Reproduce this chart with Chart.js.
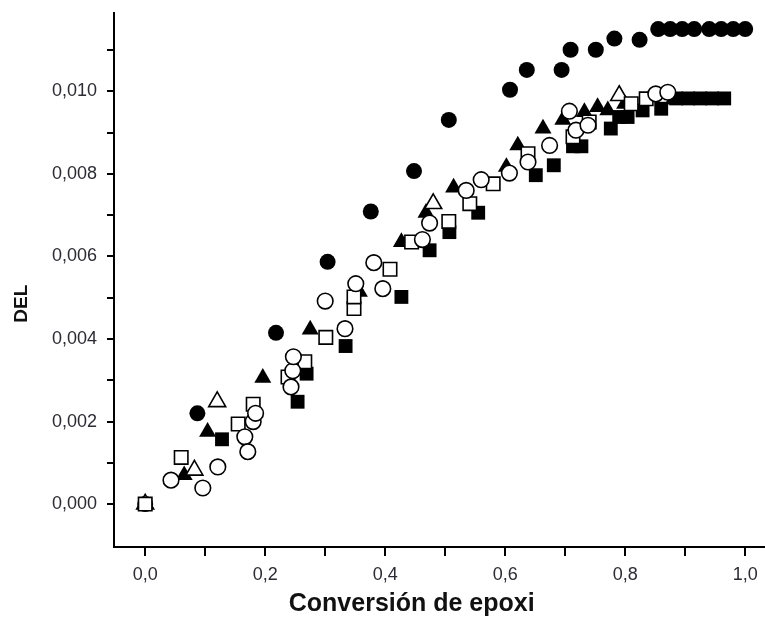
<!DOCTYPE html>
<html><head><meta charset="utf-8">
<script src="https://cdn.jsdelivr.net/npm/chart.js@4.4.0/dist/chart.umd.min.js"></script>
<style>html,body{margin:0;padding:0;background:#fff;}</style>
</head><body>
<canvas id="c" width="765" height="619" style="display:block;width:765px;height:619px"></canvas>
<script>
// ---- tick values & labels ----
const xTickValues = [0, 0.1, 0.2, 0.3, 0.4, 0.5, 0.6, 0.7, 0.8, 0.9, 1.0];
const xTickLabels = ["0,0", "", "0,2", "", "0,4", "", "0,6", "", "0,8", "", "1,0"];
const yTickValues = [0, 0.001, 0.002, 0.003, 0.004, 0.005, 0.006, 0.007, 0.008, 0.009, 0.010, 0.011];
const yTickLabels = ["0,000", "", "0,002", "", "0,004", "", "0,006", "", "0,008", "", "0,010", ""];

// ---- series: filled circles ----
const fcX = [0, 0.087, 0.218, 0.304, 0.376, 0.448, 0.506, 0.608, 0.636, 0.694, 0.709, 0.751, 0.782, 0.824, 0.855, 0.875, 0.895, 0.915, 0.94, 0.96, 0.98, 1.0];
const fcY = [0, 0.0022, 0.00415, 0.00587, 0.00709, 0.00807, 0.00931, 0.01004, 0.01052, 0.01052, 0.01101, 0.01101, 0.01128, 0.01125, 0.01151, 0.01151, 0.01151, 0.01151, 0.01151, 0.01151, 0.01151, 0.01151];

// ---- series: filled triangles ----
const ftX = [0, 0.065, 0.104, 0.196, 0.275, 0.357, 0.427, 0.468, 0.514, 0.602, 0.621, 0.663, 0.696, 0.732, 0.754, 0.771, 0.799, 0.88];
const ftY = [0, 0.0007, 0.00175, 0.00306, 0.00423, 0.00514, 0.00635, 0.00706, 0.00767, 0.00817, 0.00869, 0.0091, 0.00931, 0.0095, 0.00962, 0.00954, 0.0097, 0.0098];

// ---- series: open triangles ----
const otX = [0, 0.082, 0.120, 0.480, 0.790];
const otY = [0, 0.00082, 0.00248, 0.00728, 0.0099];

// ---- series: open squares ----
const osX = [0, 0.060, 0.155, 0.180, 0.238, 0.266, 0.301, 0.348, 0.348, 0.408, 0.444, 0.506, 0.541, 0.580, 0.638, 0.713, 0.740, 0.810, 0.835];
const osY = [0, 0.00113, 0.00194, 0.00242, 0.00308, 0.00345, 0.00404, 0.00474, 0.00502, 0.00569, 0.00635, 0.00685, 0.00728, 0.00776, 0.00849, 0.0089, 0.00926, 0.0097, 0.00982];

// ---- series: open circles ----
const ocX = [0.043, 0.096, 0.121, 0.166, 0.171, 0.180, 0.184, 0.243, 0.246, 0.247, 0.300, 0.333, 0.351, 0.381, 0.396, 0.462, 0.474, 0.535, 0.560, 0.607, 0.638, 0.674, 0.707, 0.718, 0.738, 0.851, 0.871];
const ocY = [0.00058, 0.00039, 0.0009, 0.00163, 0.00127, 0.002, 0.0022, 0.00284, 0.00323, 0.00357, 0.00492, 0.00425, 0.00534, 0.00585, 0.00522, 0.00641, 0.00681, 0.0076, 0.00786, 0.00802, 0.00829, 0.00869, 0.00952, 0.00906, 0.00918, 0.00994, 0.00998];

// ---- series: filled squares ----
const fsX = [0, 0.128, 0.254, 0.269, 0.334, 0.427, 0.474, 0.507, 0.555, 0.651, 0.681, 0.713, 0.727, 0.776, 0.790, 0.804, 0.829, 0.86, 0.885, 0.905, 0.925, 0.945, 0.965];
const fsY = [0, 0.00157, 0.00248, 0.00316, 0.00383, 0.00502, 0.00615, 0.00659, 0.00706, 0.00797, 0.00821, 0.00867, 0.00867, 0.0091, 0.00938, 0.00938, 0.00954, 0.00958, 0.00983, 0.00983, 0.00983, 0.00983, 0.00983];

const pts = (xs, ys) => xs.map((x, i) => ({x: x, y: ys[i]}));

function ds(label, xs, ys, style, filled, radius) {
  return {
    label: label,
    data: pts(xs, ys),
    pointStyle: style,
    pointRadius: radius,
    pointHoverRadius: radius,
    backgroundColor: filled ? '#000' : '#fff',
    borderColor: '#000',
    borderWidth: filled ? 0 : 1.6,
    showLine: false
  };
}

const tickFont = {family: "'Liberation Sans', Arial, sans-serif", size: 18};

new Chart(document.getElementById('c'), {
  type: 'scatter',
  data: {
    datasets: [
      ds('open circles', ocX, ocY, 'circle', false, 7.8),
      ds('open squares', osX, osY, 'rect', false, 9.5),
      ds('open triangles', otX, otY, 'triangle', false, 9.8),
      ds('filled triangles', ftX, ftY, 'triangle', true, 9.8),
      ds('filled squares', fsX, fsY, 'rect', true, 9.8),
      ds('filled circles', fcX, fcY, 'circle', true, 8)
    ]
  },
  options: {
    responsive: false,
    animation: false,
    layout: {autoPadding: false, padding: {top: 13, right: 0, left: 0, bottom: 0}},
    plugins: {legend: {display: false}, tooltip: {enabled: false}},
    scales: {
      x: {
        type: 'linear',
        min: -0.052,
        max: 1.033,
        afterBuildTicks: s => { s.ticks = xTickValues.map(v => ({value: v})); },
        afterFit: s => { s.height = 72; s.paddingLeft = 0; s.paddingRight = 0; },
        ticks: {
          autoSkip: false, maxRotation: 0, padding: 8, color: '#2b2b33', font: tickFont,
          callback: (v, i) => xTickLabels[i]
        },
        grid: {drawOnChartArea: false, drawTicks: true, tickLength: 9, color: '#000', lineWidth: 2},
        border: {display: true, color: '#000', width: 2},
        title: {
          display: true, text: 'Conversión de epoxi\u00A0\u00A0\u00A0\u00A0\u00A0\u00A0\u00A0\u00A0', color: '#111',
          font: {family: "'Liberation Sans', Arial, sans-serif", size: 25, weight: 'bold'},
          padding: {top: 0, bottom: 0}
        }
      },
      y: {
        type: 'linear',
        min: -0.00104,
        max: 0.0119,
        afterBuildTicks: s => { s.ticks = yTickValues.map(v => ({value: v})); },
        afterFit: s => { s.width = 114; s.paddingTop = 0; s.paddingBottom = 0; },
        ticks: {
          autoSkip: false, padding: 10, color: '#2b2b33', font: tickFont,
          callback: (v, i) => yTickLabels[i]
        },
        grid: {drawOnChartArea: false, drawTicks: true, tickLength: 7, color: '#000', lineWidth: 2},
        border: {display: true, color: '#000', width: 2},
        title: {
          display: true, text: 'DEL\u00A0\u00A0\u00A0\u00A0\u00A0\u00A0\u00A0\u00A0\u00A0', color: '#111',
          font: {family: "'Liberation Sans', Arial, sans-serif", size: 19, weight: 'bold'},
          padding: {top: 10, bottom: 0}
        }
      }
    }
  }
});
</script>
</body></html>
